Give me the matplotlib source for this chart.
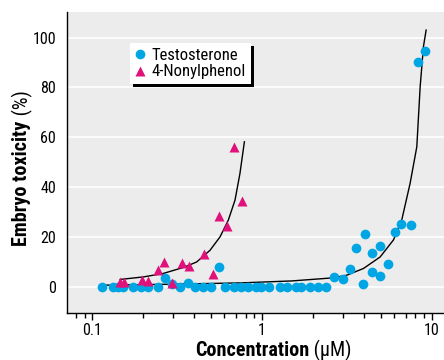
import matplotlib
matplotlib.use('Agg')
import matplotlib.pyplot as plt

# testosterone points (uM, % toxicity)
testo_x = [0.1135, 0.133, 0.142, 0.152, 0.174, 0.193, 0.213, 0.245, 0.267, 0.295,
           0.328, 0.364, 0.402, 0.446, 0.499, 0.558, 0.608, 0.681, 0.755, 0.828,
           0.926, 0.991, 1.10, 1.27, 1.41, 1.59, 1.69, 1.91, 2.15, 2.39,
           2.67, 3.00, 3.31, 3.56, 3.93, 4.02, 4.46, 4.46, 4.97, 4.97,
           5.51, 6.11, 6.63, 7.56, 8.31, 9.14]
testo_y = [0, 0, 0, 0, 0, 0, 0, 0, 3.7, 1.0,
           0, 1.6, 0, 0, 0, 8.0, 0, 0, 0, 0,
           0, 0, 0, 0, 0, 0, 0, 0, 0, 0,
           4.0, 3.3, 7.1, 15.8, 1.3, 21.3, 13.7, 6.0, 16.3, 4.3,
           9.1, 22.0, 25.1, 24.9, 90.2, 94.5]

# 4-nonylphenol points
nonyl_x = [0.146, 0.154, 0.195, 0.213, 0.245, 0.265, 0.293, 0.337, 0.372, 0.456,
           0.511, 0.556, 0.619, 0.688, 0.760]
nonyl_y = [2.0, 2.0, 2.7, 2.3, 6.7, 10.0, 1.6, 9.4, 8.3, 13.1,
           5.1, 28.3, 24.3, 56.1, 34.5]

# fitted curves
testo_fit_x = [0.119, 0.3, 0.741, 1.5, 2.58, 3.16, 3.96, 4.96, 5.94, 6.65, 7.45, 8.16, 8.54, 8.93, 9.26]
testo_fit_y = [0.7, 1.1, 1.6, 2.4, 3.6, 4.7, 7.4, 12.0, 18.8, 26.8, 41.5, 56.2, 80.3, 96.4, 103]
nonyl_fit_x = [0.146, 0.200, 0.262, 0.344, 0.412, 0.494, 0.566, 0.633, 0.693, 0.741, 0.787]
nonyl_fit_y = [3.0, 4.0, 5.4, 7.8, 10.0, 14.7, 20.1, 26.8, 34.8, 45.5, 58.2]

yticks = [0, 20, 40, 60, 80, 100]

fam = ['Roboto Condensed', 'Barlow Semi Condensed', 'DejaVu Sans']
plt.rcParams['font.family'] = fam

blue = '#00a6e4'
pink = '#e0117a'

fig = plt.figure(figsize=(4.44, 3.6), dpi=100)
ax = fig.add_axes([0.151, 0.131, 0.849, 0.836])
ax.set_facecolor('#ececec')

ax.set_xscale('log')
ax.set_xlim(0.071, 11.8)
ax.set_ylim(-10.4, 110.3)

for y in yticks:
    ax.axhline(y, color='white', lw=1.2, zorder=0)

ax.plot(testo_fit_x, testo_fit_y, color='black', lw=1, zorder=2)
ax.plot(nonyl_fit_x, nonyl_fit_y, color='black', lw=1, zorder=2)
ax.plot(testo_x, testo_y, 'o', color=blue, ms=7, mec='none', zorder=3, label='Testosterone')
ax.plot(nonyl_x, nonyl_y, '^', color=pink, ms=6.5, mec='none', zorder=4, label='4-Nonylphenol')

ax.spines['top'].set_visible(False)
ax.spines['right'].set_visible(False)
ax.spines['left'].set_linewidth(1)
ax.spines['bottom'].set_linewidth(1)

ax.set_yticks(yticks)
ax.set_xticks([0.1, 1, 10])
ax.set_xticklabels(['0.1', '1', '10'])
ax.tick_params(axis='y', length=0, pad=8, labelsize=11.5)
ax.tick_params(axis='x', which='major', length=5, width=1, pad=2, labelsize=11.5)
ax.tick_params(axis='x', which='minor', length=3.5, width=1)

leg = ax.legend(loc='upper left', bbox_to_anchor=(0.145, 0.925), frameon=True, fancybox=False,
                shadow={'color': 'black', 'alpha': 1, 'ox': 2, 'oy': -2}, handlelength=0.6,
                handletextpad=0.4, borderpad=0.3, labelspacing=0.1, fontsize=12)
leg.get_frame().set_edgecolor('white')
leg.get_frame().set_linewidth(0)

# axis labels: bold part + normal part side by side
fs = 14.5
fig.canvas.draw()
r = fig.canvas.get_renderer()
xb = ax.text(0, 0, 'Concentration', fontsize=fs, fontweight='bold', family=fam,
             transform=fig.transFigure)
xn = ax.text(0, 0, ' (μM)', fontsize=fs, family=fam, transform=fig.transFigure)
yb = ax.text(0, 0, 'Embryo toxicity', fontsize=fs, fontweight='bold', family=fam,
             rotation=90, transform=fig.transFigure)
yn = ax.text(0, 0, ' (%)', fontsize=fs, family=fam, rotation=90, transform=fig.transFigure)
W, H = fig.bbox.width, fig.bbox.height
wb = xb.get_window_extent(r).width
wn = xn.get_window_extent(r).width
cx = 273.0
xb.set_position(((cx - (wb + wn) / 2) / W, 1 - 356.0 / H))
xn.set_position(((cx - (wb + wn) / 2 + wb) / W, 1 - 356.0 / H))
hb = yb.get_window_extent(r).height
hn = yn.get_window_extent(r).height
cy = 360 - 168.0
yb.set_position((12.0 / W, (cy - (hb + hn) / 2) / H))
yn.set_position((12.0 / W, (cy - (hb + hn) / 2 + hb) / H))
for t in (xb, xn, yb, yn):
    t.set_va('baseline' if t.get_rotation() == 0 else 'bottom')
    t.set_ha('left')
    t.set_clip_on(False)

fig.savefig('out.png', dpi=100)
